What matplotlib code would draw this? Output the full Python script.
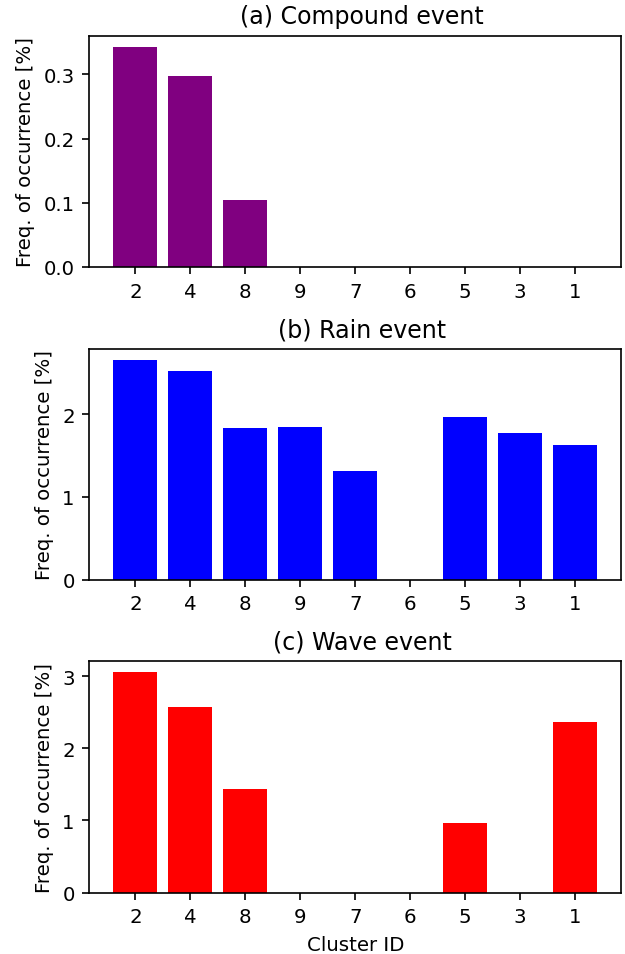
import matplotlib
matplotlib.use("Agg")
import matplotlib.pyplot as plt
import numpy as np

clusters = ["2", "4", "8", "9", "7", "6", "5", "3", "1"]
compound = [0.343, 0.298, 0.105, 0, 0, 0, 0, 0, 0]
rain = [2.66, 2.52, 1.83, 1.845, 1.31, 0, 1.97, 1.77, 1.63]
wave = [3.05, 2.57, 1.44, 0, 0, 0, 0.965, 0, 2.36]

titles = ["(a) Compound event", "(b) Rain event", "(c) Wave event"]
colors = ["purple", "blue", "red"]
series = [compound, rain, wave]

plt.rcParams["font.size"] = 9.5
plt.rcParams["axes.titlesize"] = 11.4

fig = plt.figure(figsize=(625 / 150, 955 / 150), dpi=150)
left, right = 0.1429, 0.994
boxes = [(0.7194, 0.9616), (0.3919, 0.6340), (0.0642, 0.3063)]

x = np.arange(len(clusters))
for i, (vals, title, col) in enumerate(zip(series, titles, colors)):
    b, t = boxes[i]
    ax = fig.add_axes([left, b, right - left, t - b])
    ax.bar(x, vals, color=col, width=0.8)
    ax.set_xticks(x)
    ax.set_xticklabels(clusters)
    ax.set_title(title, x=0.513)
    ax.set_ylabel("Freq. of occurrence [%]")
    if i == 2:
        ax.set_xlabel("Cluster ID")

fig.savefig("out.png", dpi=150)
